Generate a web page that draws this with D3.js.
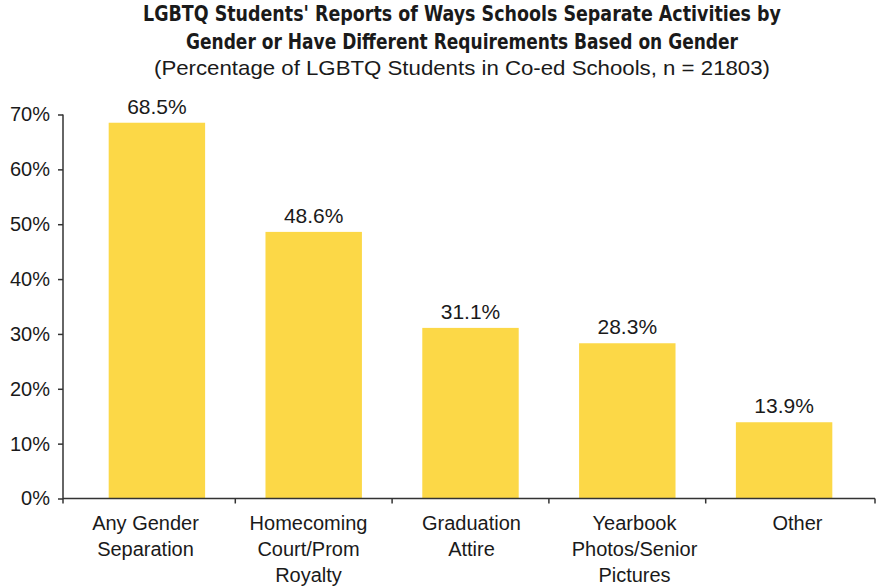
<!DOCTYPE html>
<html><head><meta charset="utf-8">
<script src="https://cdn.jsdelivr.net/npm/d3@7"></script>
<style>
body{margin:0;background:#fff;}
svg{display:block;}
</style></head>
<body>
<svg id="chart" width="877" height="588"></svg>
<script>
const titleLines = ["LGBTQ Students' Reports of Ways Schools Separate Activities by",
                    "Gender or Have Different Requirements Based on Gender"];
const subtitle = "(Percentage of LGBTQ Students in Co-ed Schools, n = 21803)";
const categories = [["Any Gender","Separation"],["Homecoming","Court/Prom","Royalty"],["Graduation","Attire"],["Yearbook","Photos/Senior","Pictures"],["Other"]];
const values = [68.5, 48.6, 31.1, 28.3, 13.9];
const yTicks = [0,10,20,30,40,50,60,70];

const svg = d3.select("#chart");
const textColor = "#1a1a1a";
const barColor = "#FCD847";
const axisColor = "#333";

const x = d3.scaleBand().domain(d3.range(values.length)).range([78.5, 862.5]).paddingInner(0.385).paddingOuter(0.1925);
const xLabel = d3.scaleBand().domain(d3.range(values.length)).range([64, 879]);
const y = d3.scaleLinear().domain([0,70]).range([498.5,114.5]);

// title
const tg = svg.append("g").attr("fill", textColor).attr("text-anchor","middle");
const titleWidths = [638, 552];
titleLines.forEach((t,i)=>{
  tg.append("text").attr("x",462).attr("y",21 + i*27.5)
    .attr("font-family","'Liberation Sans Narrow','DejaVu Sans Condensed','Arial Narrow',sans-serif")
    .attr("font-weight","bold").attr("font-size",21)
    .attr("textLength", titleWidths[i]).attr("lengthAdjust","spacingAndGlyphs")
    .text(t);
});
tg.append("text").attr("x",462).attr("y",75)
  .attr("font-family","'Liberation Sans',Arial,sans-serif").attr("font-size",21)
  .attr("textLength",616).attr("lengthAdjust","spacingAndGlyphs")
  .text(subtitle);

// bars
svg.append("g").selectAll("rect").data(values).join("rect")
  .attr("x",(d,i)=>x(i)).attr("width",x.bandwidth())
  .attr("y",d=>y(d)).attr("height",d=>y(0)-y(d))
  .attr("fill",barColor);

// value labels
svg.append("g").selectAll("text").data(values).join("text")
  .attr("x",(d,i)=>x(i)+x.bandwidth()/2).attr("y",d=>y(d)-9)
  .attr("text-anchor","middle").attr("fill",textColor)
  .attr("font-family","'Liberation Sans',Arial,sans-serif").attr("font-size",21)
  .text(d=>d.toFixed(1)+"%");

// y axis
const yAxis = d3.axisLeft(y).tickValues(yTicks).tickSize(5).tickPadding(8).tickFormat(d=>d+"%");
const gy = svg.append("g").attr("transform","translate(63,0)").call(yAxis);
gy.select(".domain").remove();
gy.selectAll(".tick line").attr("stroke",axisColor).attr("stroke-width",1.5);
gy.selectAll(".tick text").attr("fill",textColor).attr("font-size",20)
  .attr("font-family","'Liberation Sans',Arial,sans-serif");
gy.append("line").attr("x1",0).attr("x2",0).attr("y1",y(70)).attr("y2",y(0)+5)
  .attr("stroke",axisColor).attr("stroke-width",1.5);

// x axis
const gx = svg.append("g").attr("transform",`translate(0,${y(0)})`);
gx.append("line").attr("x1",63).attr("x2",875).attr("y1",0).attr("y2",0)
  .attr("stroke",axisColor).attr("stroke-width",1.5);
const step = x.step();
const boundaries = d3.range(1, values.length).map(i=>x(i) - x.paddingInner()*step/2);
boundaries.push(875);
gx.selectAll("line.tk").data(boundaries).join("line").attr("class","tk")
  .attr("x1",d=>d).attr("x2",d=>d).attr("y1",0).attr("y2",5)
  .attr("stroke",axisColor).attr("stroke-width",1.5);

const cl = svg.append("g").attr("fill",textColor).attr("text-anchor","middle")
  .attr("font-family","'Liberation Sans',Arial,sans-serif").attr("font-size",20);
categories.forEach((lines,i)=>{
  const cx = xLabel(i)+xLabel.bandwidth()/2;
  const t = cl.append("text").attr("x",cx).attr("y",530);
  lines.forEach((ln,j)=>{
    t.append("tspan").attr("x",cx).attr("dy", j===0?0:26).text(ln);
  });
});
</script>
</body></html>
